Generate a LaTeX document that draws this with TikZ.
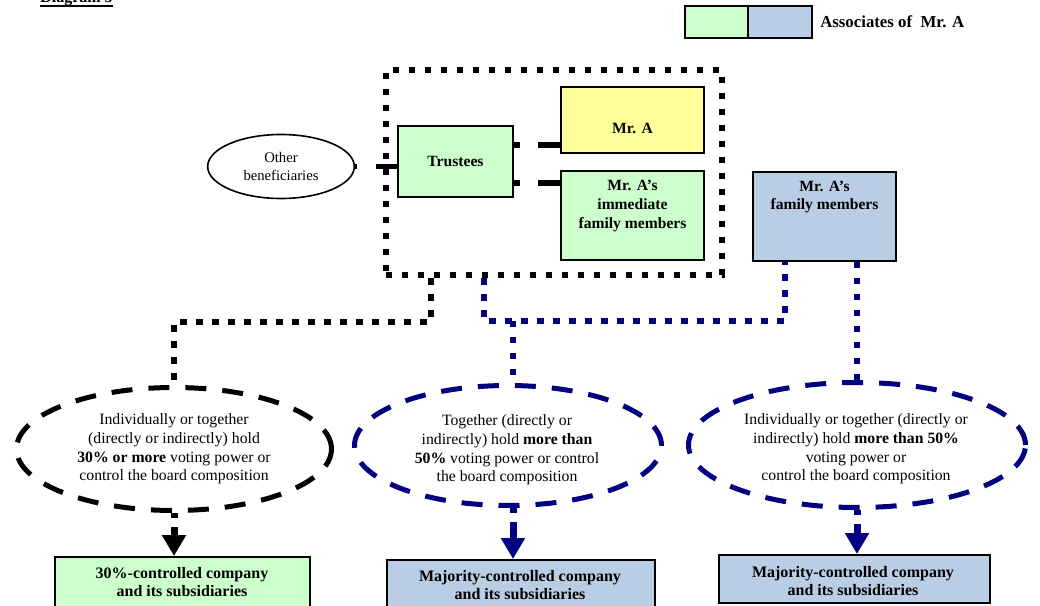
\documentclass[tikz,border=0pt]{standalone}
\usepackage{fontspec}
\setmainfont{Liberation Serif}
\usetikzlibrary{arrows.meta,shapes.geometric,calc}
\definecolor{lgreen}{HTML}{CCFFCC}
\definecolor{lyellow}{HTML}{FFFF99}
\definecolor{lblue}{HTML}{B9CDE5}
\definecolor{navy}{HTML}{000080}
\begin{document}
\begin{tikzpicture}[x=0.75pt,y=-0.75pt,
 box/.style={draw=black,line width=1.5pt,inner sep=0pt,rectangle},
 txt/.style={inner sep=0pt,align=center,font=\fontsize{11.8}{14}\selectfont},
 btxt/.style={inner sep=0pt,align=center,font=\fontsize{11.7}{14}\selectfont\bfseries},
 bbtxt/.style={inner sep=0pt,align=center,font=\fontsize{12}{13.5}\selectfont\bfseries},
 dotline/.style={line width=4.8pt,dash pattern=on 4.8pt off 7.2pt},
 dashell/.style={ellipse,draw,inner sep=0pt,align=center,line width=3.75pt,dash pattern=on 15.75pt off 12pt,font=\fontsize{11.8}{14}\selectfont},
 stub/.style={line width=3.9pt},
 darrow/.style={line width=5.25pt,dash pattern=on 3.75pt off 6.75pt on 80pt,-{Triangle[length=15.75pt,width=17.25pt]}},
]
\path[use as bounding box] (0,0) rectangle (1040,606);
\clip (0,0) rectangle (1040,606);

% title
\node[anchor=base west,inner sep=0pt,font=\fontsize{12}{14}\selectfont\bfseries] (title) at (40,3) {Diagram 5};
\draw[line width=1.5pt] ([yshift=-2.4pt]title.base west) -- ([yshift=-2.4pt]title.base east);

% legend
\node[box,fill=lgreen,minimum width=47.25pt,minimum height=24pt] (lg) at (716.5,22) {};
\node[box,fill=lblue,minimum width=48pt,minimum height=24pt] (lb) at (780,22) {};
\node[inner sep=0pt,anchor=west,font=\fontsize{12.6}{14}\selectfont\bfseries] (lt) at (820,22) {Associates of\ \ Mr. A};

% trust group
\node[draw,dotline,rectangle,inner sep=0pt,minimum width=252pt,minimum height=153.75pt] (big) at (554,172.5) {};
\node[box,line width=1.2pt,fill=lgreen,minimum width=86.25pt,minimum height=53.25pt,btxt] (tr) at (455.5,161.5) {Trustees};
\node[box,fill=lyellow,minimum width=107.25pt,minimum height=49.5pt] (mra) at (632.5,120) {};
\node[btxt] (mrat) at (632.5,128) {Mr. A};
\node[box,fill=lgreen,minimum width=107.25pt,minimum height=66.75pt] (imm) at (632.5,215.5) {};
\node[btxt] (immt) at (632.5,206) {Mr. A's\\immediate\\family members};
\node[box,fill=lblue,minimum width=107.25pt,minimum height=66.75pt] (fam) at (824.5,216.5) {};
\node[btxt] (famt) at (824.5,197) {Mr. A's\\family members};

\node[ellipse,draw,line width=1.2pt,inner sep=0pt,minimum width=110pt,minimum height=48pt,align=center,font=\fontsize{11}{13.5}\selectfont] (ob) at (281,166.5) {Other\\beneficiaries};

\coordinate (ya) at (0,145);
\coordinate (yb) at (0,183);
\draw[stub,dash pattern=on 4.5pt off 13.5pt on 30pt] (tr.east |- ya) -- (mra.west |- ya);
\draw[stub,dash pattern=on 4.5pt off 13.5pt on 30pt] (tr.east |- yb) -- (imm.west |- yb);
\draw[stub,dash pattern=on 1.5pt off 14pt on 30pt] (ob.east) -- (tr.west |- ob.east);

% ellipses
\node[dashell,minimum width=236.25pt,minimum height=92.25pt] (e1) at (174,449)
  {Individually or together\\(directly or indirectly) hold\\\textbf{30\% or more} voting power or\\control the board composition};
\node[dashell,draw=navy,minimum width=230.25pt,minimum height=90pt] (e2) at (508,445.5) {};
\node[txt] (e2t) at (507,450) {Together (directly or\\indirectly) hold \textbf{more than}\\\textbf{50\%} voting power or control\\the board composition};
\node[dashell,draw=navy,minimum width=252.75pt,minimum height=93.75pt] (e3) at (857,445) {};
\node[txt] (e3t) at (856,449) {Individually or together (directly or\\indirectly) hold \textbf{more than 50\%}\\voting power or\\control the board composition};

% connectors
\coordinate (k1) at (431,322);
\draw[dotline] (big.south -| k1) -- (k1) -| (e1.north);
\coordinate (k2) at (484,321);
\coordinate (k3) at (785,321);
\coordinate (k4) at (513,321);
\draw[dotline,navy] (big.south -| k2) -- (k2) -- (k3) -- (fam.south -| k3);
\draw[dotline,navy] (k4) -- (e2.north -| k4);
\draw[dotline,navy] (fam.south -| e3.north) -- (e3.north);

% bottom boxes
\node[box,fill=lgreen,minimum width=191.25pt,minimum height=43.5pt] (bx1) at (182.5,586) {};
\node[bbtxt] (bx1t) at (182,582) {30\%-controlled company\\and its subsidiaries};
\node[box,fill=lblue,minimum width=201pt,minimum height=41.25pt] (bx2) at (521,587.5) {};
\node[bbtxt] (bx2t) at (520,585) {Majority-controlled company\\and its subsidiaries};
\node[box,fill=lblue,minimum width=203.25pt,minimum height=36pt] (bx3) at (854.5,579) {};
\node[bbtxt] (bx3t) at (853,581) {Majority-controlled company\\and its subsidiaries};

\draw[darrow] (e1.south) -- (e1.south |- bx1.north);
\draw[darrow,navy] ([xshift=3.75pt]e2.south) -- ([xshift=3.75pt]e2.south |- bx2.north);
\draw[darrow,navy] (e3.south) -- (e3.south |- bx3.north);
\end{tikzpicture}
\end{document}
